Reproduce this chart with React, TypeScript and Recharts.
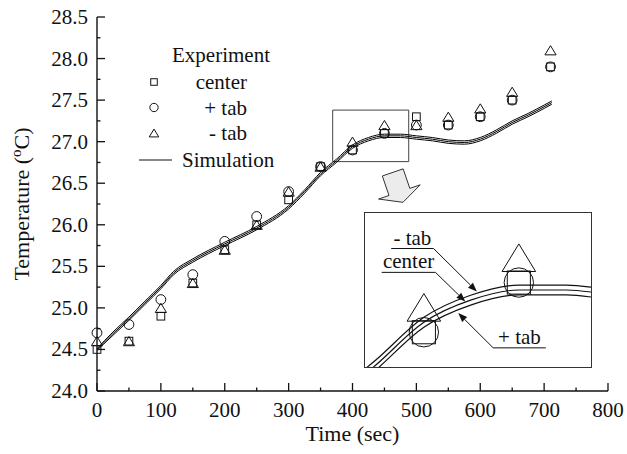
import React from "react";
import {
  ComposedChart,
  Line,
  Scatter,
  XAxis,
  YAxis,
  ReferenceArea,
  ReferenceLine,
  Legend,
  Label,
} from "recharts";

const FONT = "Liberation Serif";
const INK = "#111";
const FONT_CSS = `#root#root text, #root#root tspan { font-family: "Liberation Serif" !important; }`;

// measured temperatures (°C)
const expTimes = [0, 50, 100, 150, 200, 250, 300, 350, 400, 450, 500, 550, 600, 650, 710];
const expCenter = [24.5, 24.6, 24.9, 25.3, 25.7, 26.0, 26.3, 26.7, 26.9, 27.1, 27.3, 27.2, 27.3, 27.5, 27.9];
const expPlusTab = [24.7, 24.8, 25.1, 25.4, 25.8, 26.1, 26.4, 26.7, 26.9, 27.1, 27.2, 27.2, 27.3, 27.5, 27.9];
const expMinusTab = [24.6, 24.6, 25.0, 25.3, 25.7, 26.0, 26.4, 26.7, 27.0, 27.2, 27.2, 27.3, 27.4, 27.6, 28.1];

// simulated temperatures (°C)
const simTimes = [0, 25, 50, 75, 100, 120, 150, 200, 250, 300, 325, 350, 375, 400, 425, 450, 475, 500, 525, 550, 575, 600, 625, 650, 675, 700, 712];
const simMinusTab = [24.51, 24.71, 24.89, 25.08, 25.27, 25.44, 25.59, 25.79, 25.98, 26.23, 26.42, 26.63, 26.79, 26.96, 27.05, 27.09, 27.09, 27.07, 27.05, 27.02, 27.01, 27.05, 27.14, 27.25, 27.34, 27.44, 27.49];
const simCenter = [24.50, 24.69, 24.87, 25.06, 25.25, 25.42, 25.57, 25.77, 25.96, 26.21, 26.40, 26.61, 26.77, 26.94, 27.03, 27.07, 27.07, 27.05, 27.03, 27.00, 26.99, 27.03, 27.12, 27.23, 27.32, 27.42, 27.47];
const simPlusTab = [24.49, 24.67, 24.85, 25.04, 25.23, 25.40, 25.55, 25.75, 25.94, 26.19, 26.38, 26.59, 26.75, 26.92, 27.01, 27.05, 27.05, 27.03, 27.01, 26.98, 26.97, 27.01, 27.10, 27.21, 27.30, 27.40, 27.45];

const xTicks = [0, 50, 100, 150, 200, 250, 300, 350, 400, 450, 500, 550, 600, 650, 700, 750, 800];
const yTicks = [24, 24.25, 24.5, 24.75, 25, 25.25, 25.5, 25.75, 26, 26.25, 26.5, 26.75, 27, 27.25, 27.5, 27.75, 28, 28.25, 28.5];

// magnified window shown in the inset
const zoomTime: [number, number] = [369, 488];
const zoomTemp: [number, number] = [26.76, 27.38];

const toPoints = (ts: number[], vs: number[]) => ts.map((t, i) => ({ t, v: vs[i] }));

const SquareMark = ({ cx, cy, k = 1 }: any) => {
  const h = 3.85 * k;
  return <rect x={cx - h} y={cy - h} width={2 * h} height={2 * h} fill="none" stroke={INK} strokeWidth={1} />;
};
const CircleMark = ({ cx, cy, k = 1 }: any) => (
  <circle cx={cx} cy={cy} r={4.9 * k} fill="none" stroke={INK} strokeWidth={1} />
);
const TriangleMark = ({ cx, cy, k = 1 }: any) => {
  const w = 5.6 * k;
  const h = 4.6 * k;
  return (
    <polygon
      points={`${cx},${cy - h} ${cx - w},${cy + h} ${cx + w},${cy + h}`}
      fill="none"
      stroke={INK}
      strokeWidth={1}
    />
  );
};

const expSeries = [
  { name: "center", values: expCenter, Mark: SquareMark },
  { name: "+ tab", values: expPlusTab, Mark: CircleMark },
  { name: "- tab", values: expMinusTab, Mark: TriangleMark },
];
const simSeries = [
  { name: "sim - tab", values: simMinusTab },
  { name: "sim center", values: simCenter },
  { name: "sim + tab", values: simPlusTab },
];

// inset call-outs: underline span (tail end first) and arrow tip, in data units
const callouts = [
  { name: "- tab", tail: 405.1, other: 382.8, y: 27.237, tip: { x: 427.9, y: 27.064 } },
  { name: "center", tail: 406.1, other: 377.8, y: 27.141, tip: { x: 421.8, y: 27.024 } },
  { name: "+ tab", tail: 436.5, other: 464.2, y: 26.837, tip: { x: 418.1, y: 26.977 } },
];

const Txt = ({ size, children, ...rest }: any) => (
  <text fontFamily={FONT} fontSize={size} fill={INK} {...rest}>
    {children}
  </text>
);

const BottomTick = ({ x, y, payload }: any) => {
  const v = payload.value as number;
  const major = v % 100 === 0;
  return (
    <g>
      <line x1={x} y1={y} x2={x} y2={y - (major ? 8 : 3.5)} stroke={INK} strokeWidth={1.3} />
      {major && (
        <Txt x={x} y={y + 26} textAnchor="middle" size={21}>
          {v}
        </Txt>
      )}
    </g>
  );
};

const LeftTick = ({ x, y, payload }: any) => {
  const v = payload.value as number;
  const major = Math.abs(v * 2 - Math.round(v * 2)) < 1e-6;
  return (
    <g>
      <line x1={x} y1={y} x2={x + (major ? 8 : 3.5)} y2={y} stroke={INK} strokeWidth={1.3} />
      {major && (
        <Txt x={x - 9} y={y + 7} textAnchor="end" size={21}>
          {v.toFixed(1)}
        </Txt>
      )}
    </g>
  );
};

const TopTick = ({ x, y }: any) => (
  <line x1={x} y1={y - 1.5} x2={x} y2={y + 2.5} stroke={INK} strokeWidth={1.3} />
);

const RightTick = ({ x, y }: any) => (
  <line x1={x - 1} x2={x + 3} y1={y} y2={y} stroke={INK} strokeWidth={1.3} />
);

const XTitle = ({ viewBox }: any) => (
  <Txt x={viewBox.x + viewBox.width / 2} y={viewBox.y + 50} textAnchor="middle" size={22}>
    Time (sec)
  </Txt>
);

const YTitle = ({ viewBox }: any) => {
  const cx = 29;
  const cy = viewBox.y + viewBox.height / 2;
  return (
    <Txt x={cx} y={cy} transform={`rotate(-90, ${cx}, ${cy})`} textAnchor="middle" size={22}>
      Temperature (<tspan dy={-8} fontSize={15}>o</tspan>
      <tspan dy={8}>C)</tspan>
    </Txt>
  );
};

const LegendBox = () => (
  <svg width={170} height={140} style={{ display: "block" }}>
    <Txt x={91} y={22} textAnchor="middle" size={21}>
      Experiment
    </Txt>
    {expSeries.map((s, i) => {
      const cy = 42 + i * 25.5;
      return (
        <g key={s.name}>
          <s.Mark cx={24} cy={cy} k={0.85} />
          <Txt x={117} y={cy + 7} textAnchor="end" size={21}>
            {s.name}
          </Txt>
        </g>
      );
    })}
    <line x1={9} x2={42} y1={120} y2={120} stroke={INK} strokeWidth={1.2} />
    <Txt x={52} y={127} size={21}>
      Simulation
    </Txt>
  </svg>
);

// light grey block arrow pointing from the zoom box to the inset
const BlockArrow = ({ x1, y1, x2, y2 }: any) => {
  const len = Math.hypot(x2 - x1, y2 - y1);
  const dx = (x2 - x1) / len;
  const dy = (y2 - y1) / len;
  const nx = -dy;
  const ny = dx;
  const head = 11;
  const bx = x2 - dx * head;
  const by = y2 - dy * head;
  const pts = [
    [x1 + nx * 11, y1 + ny * 11],
    [bx + nx * 11, by + ny * 11],
    [bx + nx * 22, by + ny * 22],
    [x2, y2],
    [bx - nx * 22, by - ny * 22],
    [bx - nx * 11, by - ny * 11],
    [x1 - nx * 11, y1 - ny * 11],
  ];
  return <polygon points={pts.map((p) => p.join(",")).join(" ")} fill="#ececec" stroke="#333" strokeWidth={1} />;
};

const Underline = (name: string) => ({ x1, y1, x2, y2 }: any) => (
  <g>
    <line x1={x1} y1={y1} x2={x2} y2={y2} stroke={INK} strokeWidth={1} />
    <Txt x={(x1 + x2) / 2} y={y1 - 4} textAnchor="middle" size={21}>
      {name}
    </Txt>
  </g>
);

const Leader = ({ x1, y1, x2, y2 }: any) => {
  const len = Math.hypot(x2 - x1, y2 - y1);
  const dx = (x2 - x1) / len;
  const dy = (y2 - y1) / len;
  const bx = x2 - dx * 9;
  const by = y2 - dy * 9;
  return (
    <g>
      <line x1={x1} y1={y1} x2={bx} y2={by} stroke={INK} strokeWidth={1} />
      <polygon points={`${x2},${y2} ${bx - dy * 3.5},${by + dx * 3.5} ${bx + dy * 3.5},${by - dx * 3.5}`} fill={INK} />
    </g>
  );
};

const Inset = () => (
  <div
    style={{
      position: "absolute",
      left: 364,
      top: 212,
      width: 228,
      height: 156,
      border: `1px solid #333`,
      boxSizing: "border-box",
      background: "#fff",
    }}
  >
    <ComposedChart width={226} height={154} margin={{ top: 0, right: 0, bottom: 0, left: 0 }}>
      <XAxis type="number" dataKey="t" domain={zoomTime} allowDataOverflow hide />
      <YAxis type="number" dataKey="v" domain={zoomTemp} allowDataOverflow hide />
      {simSeries.map((s) => (
        <Line
          key={s.name}
          data={toPoints(simTimes, s.values)}
          dataKey="v"
          type="monotone"
          stroke={INK}
          strokeWidth={1.2}
          dot={false}
          isAnimationActive={false}
        />
      ))}
      {expSeries.map((s) => (
        <Scatter
          key={s.name}
          data={toPoints(expTimes, s.values).filter((p) => p.t >= zoomTime[0] && p.t <= zoomTime[1])}
          shape={(p: any) => <s.Mark cx={p.cx} cy={p.cy} k={3} />}
          isAnimationActive={false}
        />
      ))}
      {callouts.map((c) => (
        <React.Fragment key={c.name}>
          <ReferenceLine
            segment={[
              { x: Math.min(c.tail, c.other), y: c.y },
              { x: Math.max(c.tail, c.other), y: c.y },
            ]}
            shape={Underline(c.name)}
          />
          <ReferenceLine
            segment={[
              { x: c.tail, y: c.y },
              { x: c.tip.x, y: c.tip.y },
            ]}
            shape={Leader}
          />
        </React.Fragment>
      ))}
    </ComposedChart>
  </div>
);

export default function App() {
  return (
    <div style={{ position: "absolute", left: 0, top: 0, width: 627, height: 454, background: "#fff" }}>
      <style>{FONT_CSS}</style>
      <ComposedChart width={627} height={454} margin={{ top: 17, right: 19, bottom: 0, left: 0 }}>
        <XAxis
          type="number"
          dataKey="t"
          domain={[0, 800]}
          ticks={xTicks}
          interval={0}
          height={63}
          tickSize={0}
          tickMargin={0}
          tickLine={false}
          axisLine={{ stroke: INK, strokeWidth: 1.4 }}
          tick={(p: any) => <BottomTick {...p} />}
        >
          <Label content={XTitle} />
        </XAxis>
        <XAxis
          xAxisId="top"
          orientation="top"
          type="number"
          domain={[0, 800]}
          ticks={xTicks}
          interval={0}
          height={0}
          tickSize={0}
          tickMargin={0}
          tickLine={false}
          axisLine={{ stroke: INK, strokeWidth: 1.4 }}
          tick={(p: any) => <TopTick {...p} />}
        />
        <YAxis
          type="number"
          dataKey="v"
          domain={[24, 28.5]}
          ticks={yTicks}
          interval={0}
          width={97}
          tickSize={0}
          tickMargin={0}
          tickLine={false}
          axisLine={{ stroke: INK, strokeWidth: 1.4 }}
          tick={(p: any) => <LeftTick {...p} />}
        >
          <Label content={YTitle} />
        </YAxis>
        <YAxis
          yAxisId="right"
          orientation="right"
          type="number"
          domain={[24, 28.5]}
          ticks={yTicks}
          interval={0}
          width={0}
          tickSize={0}
          tickMargin={0}
          tickLine={false}
          axisLine={{ stroke: INK, strokeWidth: 1.4 }}
          tick={(p: any) => <RightTick {...p} />}
        />
        <ReferenceArea
          x1={zoomTime[0]}
          x2={zoomTime[1]}
          y1={zoomTemp[0]}
          y2={zoomTemp[1]}
          fill="none"
          fillOpacity={0}
          stroke="#444"
          strokeWidth={1}
        />
        <ReferenceLine
          segment={[
            { x: 463, y: 26.63 },
            { x: 479, y: 26.27 },
          ]}
          shape={BlockArrow}
        />
        {simSeries.map((s) => (
          <Line
            key={s.name}
            data={toPoints(simTimes, s.values)}
            dataKey="v"
            type="monotone"
            stroke="#000"
            strokeWidth={1}
            dot={false}
            isAnimationActive={false}
          />
        ))}
        {expSeries.map((s) => (
          <Scatter
            key={s.name}
            data={toPoints(expTimes, s.values)}
            shape={(p: any) => <s.Mark cx={p.cx} cy={p.cy} k={1} />}
            isAnimationActive={false}
          />
        ))}
        <Legend
          content={LegendBox}
          layout="horizontal"
          verticalAlign="middle"
          align="center"
          wrapperStyle={{ left: 130, top: 40, width: 170, height: 140 }}
        />
      </ComposedChart>
      <Inset />
    </div>
  );
}
